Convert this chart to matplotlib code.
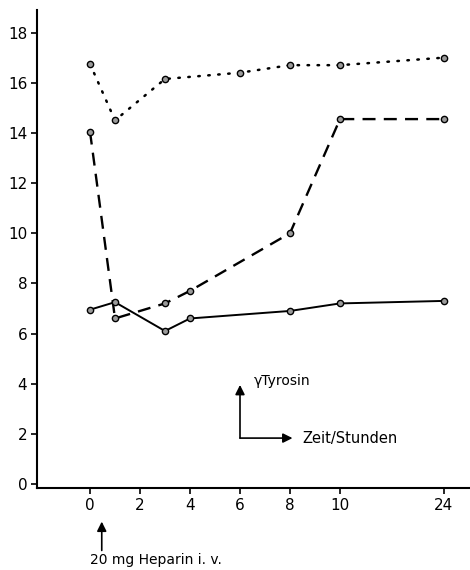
import matplotlib
matplotlib.use("Agg")
import matplotlib.pyplot as plt
import numpy as np

# Data (hours after heparin, value)
dotted_h = [0, 1, 3, 6, 8, 10, 24]
dotted_v = [16.75, 14.5, 16.15, 16.4, 16.7, 16.7, 17.0]

dashed_h = [0, 1, 3, 4, 8, 10, 24]
dashed_v = [14.05, 6.6, 7.2, 7.7, 10.0, 14.55, 14.55]

solid_h = [0, 1, 3, 4, 8, 10, 24]
solid_v = [6.95, 7.25, 6.1, 6.6, 6.9, 7.2, 7.3]

xtick_hours = [0, 2, 4, 6, 8, 10, 24]
xtick_labels = ["0", "2", "4", "6", "8", "10", "24"]
ytick_vals = [0, 2, 4, 6, 8, 10, 12, 14, 16, 18]

# compressed time axis (break between 10 and 24 h)
def pos(h):
    return np.interp(h, [0, 10, 24], [0, 10, 14.15])

plt.rcParams['font.family'] = ['DejaVu Sans']
fig = plt.figure(figsize=(4.7, 5.7), dpi=100)
ax = fig.add_axes([37/470, 1-488/570, 1-37/470, (488-10)/570])

mk = dict(marker='o', ms=4.5, mfc='#9a9a9a', mec='black', mew=1.0)
ax.plot(pos(dotted_h), dotted_v, color='black', lw=1.8,
        linestyle=(0, (0.6, 3.4)), dash_capstyle='round', **mk)
ax.plot(pos(dashed_h), dashed_v, color='black', lw=1.7,
        linestyle=(0, (5.5, 3.5)), **mk)
ax.plot(pos(solid_h), solid_v, color='black', lw=1.4, linestyle='-', **mk)

ax.set_xlim(-2.12, 15.2)
ax.set_ylim(-0.16, 18.9)
ax.set_xticks(pos(xtick_hours))
ax.set_xticklabels(xtick_labels)
ax.set_yticks(ytick_vals)
ax.spines['top'].set_visible(False)
ax.spines['right'].set_visible(False)
ax.spines['left'].set_linewidth(1.5)
ax.spines['bottom'].set_linewidth(1.5)
ax.tick_params(axis='both', direction='out', length=4, width=1.2,
               labelsize=11, pad=3)

# legend-like axis key
arrow_kw = dict(arrowstyle='-|>', color='black', lw=1.2,
                mutation_scale=14, shrinkA=0, shrinkB=0)
ax.annotate('', xy=(6.0, 3.95), xytext=(6.0, 1.83),
            arrowprops=dict(arrow_kw, facecolor='#bbbbbb'))
ax.annotate('', xy=(8.1, 1.83), xytext=(6.0, 1.83),
            arrowprops=dict(arrow_kw, facecolor='#bbbbbb'))
ax.text(6.55, 4.1, 'γTyrosin', fontsize=10, va='center', ha='left')
ax.text(8.5, 1.83, 'Zeit/Stunden', fontsize=10.5, va='center', ha='left')

# heparin injection marker
ax.annotate('', xy=(0.47, -1.5), xytext=(0.47, -2.65),
            xycoords='data', textcoords='data', annotation_clip=False,
            arrowprops=dict(arrow_kw, facecolor='#bbbbbb'))
ax.text(0.0, -3.05, '20 mg Heparin i. v.', fontsize=10, va='center',
        ha='left', clip_on=False)

fig.savefig('out.png', dpi=100)
